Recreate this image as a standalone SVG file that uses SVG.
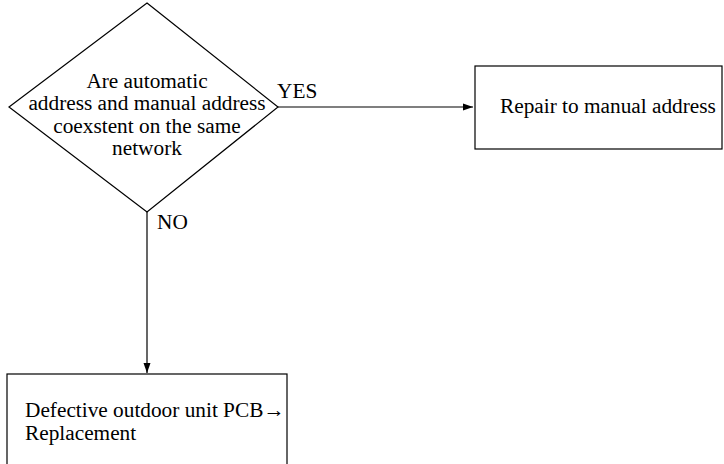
<svg xmlns="http://www.w3.org/2000/svg" width="724" height="464" viewBox="0 0 724 464">
<style>
.shape{fill:#fff;stroke:#000;stroke-width:1.2}
.line{fill:none;stroke:#000;stroke-width:1.2}
text{font-family:"Liberation Serif","Times New Roman",serif;font-size:21.3px;fill:#000}
.c{text-anchor:middle}
</style>
<defs>
<marker id="arr" viewBox="0 0 10 10" refX="10" refY="5" markerWidth="10" markerHeight="10" markerUnits="userSpaceOnUse" orient="auto">
<path d="M0,1.5 L10,5 L0,8.5 z" fill="#000"/>
</marker>
</defs>
<g id="decision">
<polygon class="shape" points="147,3 278,107 147,212 9,107"/>
<text class="c" x="147" y="88">Are automatic</text>
<text class="c" x="147" y="110">address and manual address</text>
<text class="c" x="147" y="133">coexstent on the same</text>
<text class="c" x="147" y="155">network</text>
</g>
<g id="repair">
<rect class="shape" x="475" y="66" width="247" height="83"/>
<text x="500" y="113">Repair to manual address</text>
</g>
<g id="replace">
<rect class="shape" x="7" y="374" width="280" height="95"/>
<text x="25" y="417">Defective outdoor unit PCB→</text>
<text x="25" y="440">Replacement</text>
</g>
<g id="connectors">
<line class="line" x1="278" y1="107" x2="473" y2="107" marker-end="url(#arr)"/>
<text x="277" y="98">YES</text>
<line class="line" x1="147" y1="212" x2="147" y2="373" marker-end="url(#arr)"/>
<text x="157" y="229">NO</text>
</g>
</svg>
